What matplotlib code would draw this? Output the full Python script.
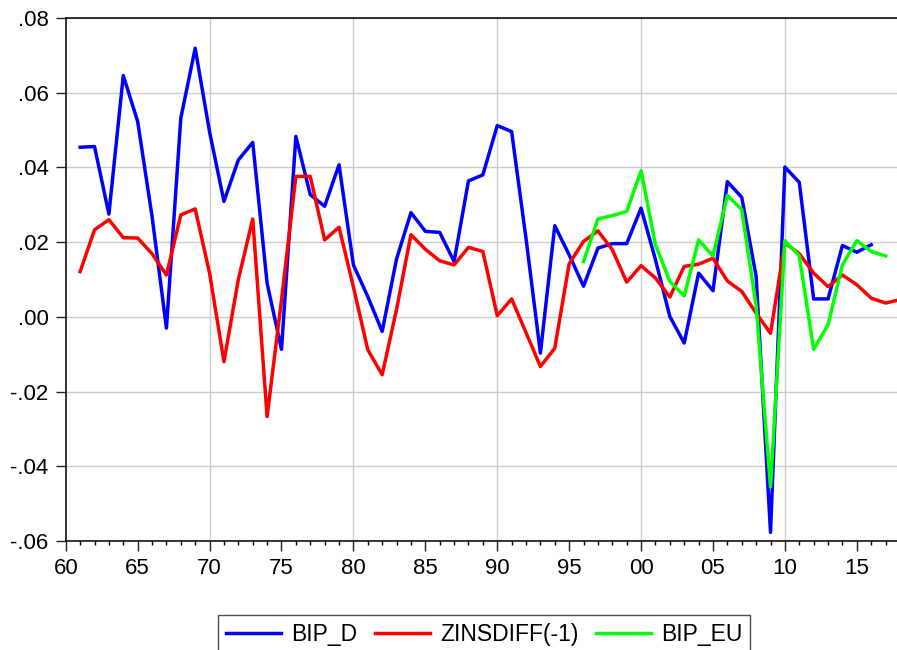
import numpy as np
import matplotlib
matplotlib.use("Agg")
import matplotlib.pyplot as plt
from matplotlib.ticker import MultipleLocator, FuncFormatter

plt.rcParams['font.family'] = ['Liberation Sans', 'DejaVu Sans']
plt.rcParams['xtick.labelsize'] = 16
plt.rcParams['ytick.labelsize'] = 16

# annual data
years_d = np.arange(1961, 2017)
bip_d = [0.0454, 0.0456, 0.0275, 0.0646, 0.0523, 0.0269, -0.0030, 0.0532, 0.0719, 0.0495,
         0.0309, 0.0420, 0.0467, 0.0090, -0.0087, 0.0483, 0.0327, 0.0296, 0.0407, 0.0139,
         0.0054, -0.0039, 0.0155, 0.0279, 0.0229, 0.0226, 0.0148, 0.0364, 0.0380, 0.0512,
         0.0496, 0.0210, -0.0097, 0.0244, 0.0166, 0.0082, 0.0184, 0.0196, 0.0196, 0.0291,
         0.0153, 0.0001, -0.0070, 0.0117, 0.0070, 0.0362, 0.0320, 0.0108, -0.0577, 0.0401,
         0.0360, 0.0048, 0.0048, 0.0191, 0.0173, 0.0193]

years_z = np.arange(1961, 2019)
zinsdiff = [0.0121, 0.0233, 0.0260, 0.0212, 0.0211, 0.0169, 0.0112, 0.0273, 0.0289, 0.0117,
            -0.0120, 0.0100, 0.0262, -0.0267, 0.0045, 0.0376, 0.0376, 0.0206, 0.0240, 0.0080,
            -0.0088, -0.0155, 0.0020, 0.0220, 0.0181, 0.0150, 0.0139, 0.0186, 0.0175, 0.0003,
            0.0048, -0.0042, -0.0133, -0.0084, 0.0142, 0.0202, 0.0230, 0.0180, 0.0093, 0.0137,
            0.0104, 0.0053, 0.0135, 0.0141, 0.0157, 0.0096, 0.0068, 0.0010, -0.0044, 0.0198,
            0.0169, 0.0117, 0.0081, 0.0112, 0.0086, 0.0050, 0.0037, 0.0046]

years_eu = np.arange(1996, 2018)
bip_eu = [0.0148, 0.0262, 0.0271, 0.0282, 0.0391, 0.0193, 0.0095, 0.0056, 0.0206, 0.0163,
          0.0325, 0.0287, 0.0030, -0.0455, 0.0204, 0.0163, -0.0087, -0.0021, 0.0139, 0.0204,
          0.0175, 0.0163]

fig = plt.figure(figsize=(8.97, 6.5), dpi=100)
ax = fig.add_axes([0.0733, 0.1677, 0.930, 0.8046])

ax.plot(years_d, bip_d, color='#0000ff', lw=2.5, label='BIP_D')
ax.plot(years_z, zinsdiff, color='#ff0000', lw=2.5, label='ZINSDIFF(-1)')
ax.plot(years_eu, bip_eu, color='#00ff00', lw=2.5, label='BIP_EU')

ax.set_xlim(1960, 2018)
ax.set_ylim(-0.06, 0.08)

ax.xaxis.set_major_locator(MultipleLocator(5))
ax.xaxis.set_minor_locator(MultipleLocator(1))
ax.xaxis.set_major_formatter(FuncFormatter(lambda v, p: '%02d' % (int(round(v)) % 100)))
ax.yaxis.set_major_locator(MultipleLocator(0.02))
ax.yaxis.set_major_formatter(FuncFormatter(
    lambda v, p: ('-' if v < -1e-9 else '') + ('%.2f' % abs(v))[1:]))

# vertical grid only every ten years, horizontal at every tick
for x in range(1970, 2018, 10):
    ax.axvline(x, color='#cccccc', lw=1.0, zorder=0)
ax.grid(axis='y', color='#cccccc', lw=1.0, zorder=0)

ax.tick_params(axis='both', which='major', labelsize=16, direction='out',
               length=7, width=1, color='#222222', pad=5.5)
ax.tick_params(axis='x', which='minor', direction='out', length=3, width=1)
for s in ['left', 'bottom', 'top']:
    ax.spines[s].set_linewidth(1.2)
    ax.spines[s].set_color('#111111')
ax.spines['right'].set_visible(False)

leg = fig.legend(loc='upper center', bbox_to_anchor=(0.540, 0.054), ncol=3,
                 fontsize=16.5, frameon=True, fancybox=False, handlelength=2.4,
                 columnspacing=0.75, handletextpad=0.45, borderpad=0.35,
                 borderaxespad=0)
leg.get_frame().set_edgecolor('#222222')
leg.get_frame().set_linewidth(1.0)

fig.savefig('out.png', dpi=100)
